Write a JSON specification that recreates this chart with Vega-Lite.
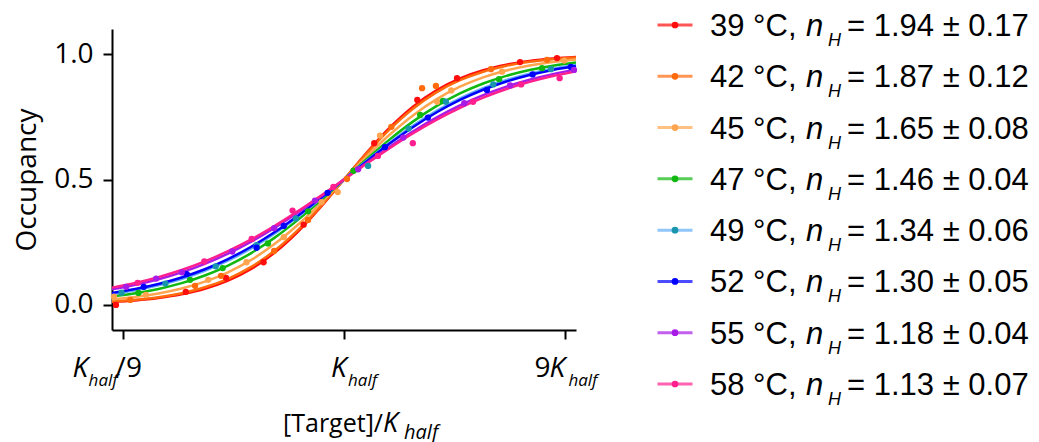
{
  "$schema": "https://vega.github.io/schema/vega-lite/v6.json",
  "background": "white",
  "padding": {"left": 13, "top": 11, "right": 5, "bottom": 0},
  "spacing": 59,
  "config": {"view": {"stroke": null}},
  "datasets": {
    "curves": [
      {"t":"39","x":0.1,"y":0.0114},{"t":"39","x":0.1259,"y":0.0176},{"t":"39","x":0.1585,"y":0.0273},{"t":"39","x":0.1995,"y":0.0420},{"t":"39","x":0.2512,"y":0.0642},{"t":"39","x":0.3162,"y":0.0968},{"t":"39","x":0.3981,"y":0.1435},{"t":"39","x":0.5012,"y":0.2075},{"t":"39","x":0.631,"y":0.2904},{"t":"39","x":0.7943,"y":0.3902},{"t":"39","x":1,"y":0.5},{"t":"39","x":1.2589,"y":0.6098},{"t":"39","x":1.5849,"y":0.7096},{"t":"39","x":1.9953,"y":0.7925},{"t":"39","x":2.5119,"y":0.8565},{"t":"39","x":3.1623,"y":0.9032},{"t":"39","x":3.9811,"y":0.9358},{"t":"39","x":5.0119,"y":0.9580},{"t":"39","x":6.3096,"y":0.9727},{"t":"39","x":7.9433,"y":0.9824},{"t":"39","x":10,"y":0.9886},
      {"t":"42","x":0.1,"y":0.0133},{"t":"42","x":0.1259,"y":0.0203},{"t":"42","x":0.1585,"y":0.0309},{"t":"42","x":0.1995,"y":0.0468},{"t":"42","x":0.2512,"y":0.0702},{"t":"42","x":0.3162,"y":0.1041},{"t":"42","x":0.3981,"y":0.1516},{"t":"42","x":0.5012,"y":0.2156},{"t":"42","x":0.631,"y":0.2971},{"t":"42","x":0.7943,"y":0.3940},{"t":"42","x":1,"y":0.5},{"t":"42","x":1.2589,"y":0.6060},{"t":"42","x":1.5849,"y":0.7029},{"t":"42","x":1.9953,"y":0.7844},{"t":"42","x":2.5119,"y":0.8484},{"t":"42","x":3.1623,"y":0.8959},{"t":"42","x":3.9811,"y":0.9298},{"t":"42","x":5.0119,"y":0.9532},{"t":"42","x":6.3096,"y":0.9691},{"t":"42","x":7.9433,"y":0.9797},{"t":"42","x":10,"y":0.9867},
      {"t":"45","x":0.1,"y":0.0219},{"t":"45","x":0.1259,"y":0.0317},{"t":"45","x":0.1585,"y":0.0457},{"t":"45","x":0.1995,"y":0.0654},{"t":"45","x":0.2512,"y":0.0928},{"t":"45","x":0.3162,"y":0.1302},{"t":"45","x":0.3981,"y":0.1795},{"t":"45","x":0.5012,"y":0.2424},{"t":"45","x":0.631,"y":0.3187},{"t":"45","x":0.7943,"y":0.4061},{"t":"45","x":1,"y":0.5},{"t":"45","x":1.2589,"y":0.5939},{"t":"45","x":1.5849,"y":0.6813},{"t":"45","x":1.9953,"y":0.7576},{"t":"45","x":2.5119,"y":0.8205},{"t":"45","x":3.1623,"y":0.8698},{"t":"45","x":3.9811,"y":0.9072},{"t":"45","x":5.0119,"y":0.9346},{"t":"45","x":6.3096,"y":0.9543},{"t":"45","x":7.9433,"y":0.9683},{"t":"45","x":10,"y":0.9781},
      {"t":"47","x":0.1,"y":0.0335},{"t":"47","x":0.1259,"y":0.0463},{"t":"47","x":0.1585,"y":0.0636},{"t":"47","x":0.1995,"y":0.0868},{"t":"47","x":0.2512,"y":0.1174},{"t":"47","x":0.3162,"y":0.1570},{"t":"47","x":0.3981,"y":0.2067},{"t":"47","x":0.5012,"y":0.2673},{"t":"47","x":0.631,"y":0.3380},{"t":"47","x":0.7943,"y":0.4167},{"t":"47","x":1,"y":0.5},{"t":"47","x":1.2589,"y":0.5833},{"t":"47","x":1.5849,"y":0.6620},{"t":"47","x":1.9953,"y":0.7327},{"t":"47","x":2.5119,"y":0.7933},{"t":"47","x":3.1623,"y":0.8430},{"t":"47","x":3.9811,"y":0.8826},{"t":"47","x":5.0119,"y":0.9132},{"t":"47","x":6.3096,"y":0.9364},{"t":"47","x":7.9433,"y":0.9537},{"t":"47","x":10,"y":0.9665},
      {"t":"49","x":0.1,"y":0.0437},{"t":"49","x":0.1259,"y":0.0586},{"t":"49","x":0.1585,"y":0.0781},{"t":"49","x":0.1995,"y":0.1034},{"t":"49","x":0.2512,"y":0.1357},{"t":"49","x":0.3162,"y":0.1761},{"t":"49","x":0.3981,"y":0.2254},{"t":"49","x":0.5012,"y":0.2838},{"t":"49","x":0.631,"y":0.3504},{"t":"49","x":0.7943,"y":0.4235},{"t":"49","x":1,"y":0.5},{"t":"49","x":1.2589,"y":0.5765},{"t":"49","x":1.5849,"y":0.6496},{"t":"49","x":1.9953,"y":0.7162},{"t":"49","x":2.5119,"y":0.7746},{"t":"49","x":3.1623,"y":0.8239},{"t":"49","x":3.9811,"y":0.8643},{"t":"49","x":5.0119,"y":0.8966},{"t":"49","x":6.3096,"y":0.9219},{"t":"49","x":7.9433,"y":0.9414},{"t":"49","x":10,"y":0.9563},
      {"t":"52","x":0.1,"y":0.0477},{"t":"52","x":0.1259,"y":0.0633},{"t":"52","x":0.1585,"y":0.0836},{"t":"52","x":0.1995,"y":0.1095},{"t":"52","x":0.2512,"y":0.1423},{"t":"52","x":0.3162,"y":0.1829},{"t":"52","x":0.3981,"y":0.2320},{"t":"52","x":0.5012,"y":0.2895},{"t":"52","x":0.631,"y":0.3547},{"t":"52","x":0.7943,"y":0.4257},{"t":"52","x":1,"y":0.5},{"t":"52","x":1.2589,"y":0.5743},{"t":"52","x":1.5849,"y":0.6453},{"t":"52","x":1.9953,"y":0.7105},{"t":"52","x":2.5119,"y":0.7680},{"t":"52","x":3.1623,"y":0.8171},{"t":"52","x":3.9811,"y":0.8577},{"t":"52","x":5.0119,"y":0.8905},{"t":"52","x":6.3096,"y":0.9164},{"t":"52","x":7.9433,"y":0.9367},{"t":"52","x":10,"y":0.9523},
      {"t":"55","x":0.1,"y":0.0620},{"t":"55","x":0.1259,"y":0.0798},{"t":"55","x":0.1585,"y":0.1021},{"t":"55","x":0.1995,"y":0.1299},{"t":"55","x":0.2512,"y":0.1638},{"t":"55","x":0.3162,"y":0.2045},{"t":"55","x":0.3981,"y":0.2522},{"t":"55","x":0.5012,"y":0.3068},{"t":"55","x":0.631,"y":0.3674},{"t":"55","x":0.7943,"y":0.4325},{"t":"55","x":1,"y":0.5},{"t":"55","x":1.2589,"y":0.5675},{"t":"55","x":1.5849,"y":0.6326},{"t":"55","x":1.9953,"y":0.6932},{"t":"55","x":2.5119,"y":0.7478},{"t":"55","x":3.1623,"y":0.7955},{"t":"55","x":3.9811,"y":0.8362},{"t":"55","x":5.0119,"y":0.8701},{"t":"55","x":6.3096,"y":0.8979},{"t":"55","x":7.9433,"y":0.9202},{"t":"55","x":10,"y":0.9380},
      {"t":"58","x":0.1,"y":0.0690},{"t":"58","x":0.1259,"y":0.0877},{"t":"58","x":0.1585,"y":0.1109},{"t":"58","x":0.1995,"y":0.1393},{"t":"58","x":0.2512,"y":0.1735},{"t":"58","x":0.3162,"y":0.2140},{"t":"58","x":0.3981,"y":0.2610},{"t":"58","x":0.5012,"y":0.3142},{"t":"58","x":0.631,"y":0.3728},{"t":"58","x":0.7943,"y":0.4353},{"t":"58","x":1,"y":0.5},{"t":"58","x":1.2589,"y":0.5647},{"t":"58","x":1.5849,"y":0.6272},{"t":"58","x":1.9953,"y":0.6858},{"t":"58","x":2.5119,"y":0.7390},{"t":"58","x":3.1623,"y":0.7860},{"t":"58","x":3.9811,"y":0.8265},{"t":"58","x":5.0119,"y":0.8607},{"t":"58","x":6.3096,"y":0.8891},{"t":"58","x":7.9433,"y":0.9123},{"t":"58","x":10,"y":0.9310}
    ],
    "points": [
      {"t":"39","x":0.104,"y":0.0},{"t":"39","x":0.208,"y":0.052},{"t":"39","x":0.31,"y":0.108},{"t":"39","x":0.45,"y":0.17},{"t":"39","x":0.67,"y":0.32},{"t":"39","x":1.35,"y":0.645},{"t":"39","x":2.07,"y":0.817},{"t":"39","x":3.07,"y":0.904},{"t":"39","x":5.74,"y":0.968},{"t":"39","x":8.28,"y":0.984},
      {"t":"42","x":0.12,"y":0.02},{"t":"42","x":0.228,"y":0.076},{"t":"42","x":0.295,"y":0.116},{"t":"42","x":0.5,"y":0.215},{"t":"42","x":0.7,"y":0.339},{"t":"42","x":1.03,"y":0.502},{"t":"42","x":1.6,"y":0.71},{"t":"42","x":2.17,"y":0.864},{"t":"42","x":2.49,"y":0.873},{"t":"42","x":4.3,"y":0.94},{"t":"42","x":7.5,"y":0.977},
      {"t":"45","x":0.102,"y":0.033},{"t":"45","x":0.14,"y":0.04},{"t":"45","x":0.26,"y":0.1},{"t":"45","x":0.38,"y":0.17},{"t":"45","x":0.55,"y":0.27},{"t":"45","x":0.8,"y":0.41},{"t":"45","x":0.94,"y":0.45},{"t":"45","x":1.43,"y":0.675},{"t":"45","x":2.52,"y":0.81},{"t":"45","x":2.9,"y":0.855},{"t":"45","x":4.8,"y":0.93},{"t":"45","x":8.9,"y":0.974},
      {"t":"47","x":0.13,"y":0.048},{"t":"47","x":0.217,"y":0.1},{"t":"47","x":0.3,"y":0.147},{"t":"47","x":0.47,"y":0.245},{"t":"47","x":0.7,"y":0.373},{"t":"47","x":1.1,"y":0.535},{"t":"47","x":2.13,"y":0.757},{"t":"47","x":2.67,"y":0.813},{"t":"47","x":4.66,"y":0.9},{"t":"47","x":7.14,"y":0.944},
      {"t":"49","x":0.11,"y":0.049},{"t":"49","x":0.17,"y":0.085},{"t":"49","x":0.28,"y":0.154},{"t":"49","x":0.42,"y":0.238},{"t":"49","x":0.62,"y":0.345},{"t":"49","x":1.27,"y":0.554},{"t":"49","x":1.9,"y":0.703},{"t":"49","x":2.75,"y":0.81},{"t":"49","x":4.4,"y":0.879},{"t":"49","x":7.8,"y":0.94},
      {"t":"52","x":0.137,"y":0.072},{"t":"52","x":0.21,"y":0.123},{"t":"52","x":0.42,"y":0.228},{"t":"52","x":0.55,"y":0.315},{"t":"52","x":0.85,"y":0.447},{"t":"52","x":1.5,"y":0.629},{"t":"52","x":2.3,"y":0.747},{"t":"52","x":4.13,"y":0.857},{"t":"52","x":6.5,"y":0.919},{"t":"52","x":9.5,"y":0.949},
      {"t":"55","x":0.115,"y":0.072},{"t":"55","x":0.155,"y":0.105},{"t":"55","x":0.2,"y":0.13},{"t":"55","x":0.33,"y":0.213},{"t":"55","x":0.5,"y":0.306},{"t":"55","x":0.75,"y":0.416},{"t":"55","x":1.15,"y":0.541},{"t":"55","x":1.8,"y":0.667},{"t":"55","x":3.3,"y":0.804},{"t":"55","x":5.2,"y":0.875},{"t":"55","x":9.8,"y":0.937},
      {"t":"58","x":0.129,"y":0.088},{"t":"58","x":0.25,"y":0.173},{"t":"58","x":0.4,"y":0.263},{"t":"58","x":0.6,"y":0.376},{"t":"58","x":0.9,"y":0.47},{"t":"58","x":1.4,"y":0.594},{"t":"58","x":1.98,"y":0.645},{"t":"58","x":3.6,"y":0.81},{"t":"58","x":5.8,"y":0.879},{"t":"58","x":8.5,"y":0.904}
    ],
    "legend": [
      {"t":"39","tl":"39 °C,","st":"= 1.94 ± 0.17"},
      {"t":"42","tl":"42 °C,","st":"= 1.87 ± 0.12"},
      {"t":"45","tl":"45 °C,","st":"= 1.65 ± 0.08"},
      {"t":"47","tl":"47 °C,","st":"= 1.46 ± 0.04"},
      {"t":"49","tl":"49 °C,","st":"= 1.34 ± 0.06"},
      {"t":"52","tl":"52 °C,","st":"= 1.30 ± 0.05"},
      {"t":"55","tl":"55 °C,","st":"= 1.18 ± 0.04"},
      {"t":"58","tl":"58 °C,","st":"= 1.13 ± 0.07"}
    ]
  },
  "hconcat": [
    {
      "width": 464,
      "height": 301,
      "layer": [
        {
          "data": {"name": "curves"},
          "mark": {"type": "line", "interpolate": "monotone", "strokeWidth": 2.5},
          "encoding": {
            "x": {"field": "x", "type": "quantitative",
              "scale": {"type": "log", "domain": [0.1, 10], "nice": false},
              "axis": {"values": [0.1111111, 1, 9], "labels": false, "title": null, "grid": false,
                "domainColor": "black", "domainWidth": 2, "tickColor": "black", "tickWidth": 2, "tickSize": 9}},
            "y": {"field": "y", "type": "quantitative",
              "scale": {"domain": [-0.1, 1.1], "nice": false, "zero": false},
              "axis": {"values": [0, 0.5, 1], "format": ".1f", "grid": false, "title": "Occupancy",
                "domainColor": "black", "domainWidth": 2, "tickColor": "black", "tickWidth": 2, "tickSize": 9,
                "labelFont": "Open Sans", "labelFontSize": 28, "labelColor": "black", "labelPadding": 10,
                "titleFont": "Open Sans", "titleFontSize": 28, "titleFontWeight": "normal", "titleColor": "black", "titlePadding": 12}},
            "color": {"field": "t", "type": "nominal",
              "scale": {"domain": ["39","42","45","47","49","52","55","58"],
                "range": ["#FF0D0D","#FF6A0D","#FFA54F","#10B810","#63AEF5","#0000FF","#A81BE6","#FF1F8E"]},
              "legend": null}
          }
        },
        {
          "data": {"name": "points"},
          "mark": {"type": "point", "filled": true, "size": 40, "opacity": 1},
          "encoding": {
            "x": {"field": "x", "type": "quantitative"},
            "y": {"field": "y", "type": "quantitative"},
            "fill": {"field": "t", "type": "nominal",
              "scale": {"domain": ["39","42","45","47","49","52","55","58"],
                "range": ["#FF0D0D","#FF6A0D","#FFA54F","#10B810","#1996AD","#0000FF","#A81BE6","#FF1F8E"]},
              "legend": null}
          }
        },
        {"data": {"values": [{}]}, "mark": {"type": "text", "text": "K", "font": "Open Sans", "fontSize": 28, "fontStyle": "italic", "align": "left", "baseline": "alphabetic", "dx": -50},
          "encoding": {"x": {"datum": 0.1111111, "type": "quantitative"}, "y": {"datum": -0.287, "type": "quantitative"}}},
        {"data": {"values": [{}]}, "mark": {"type": "text", "text": "half", "font": "Open Sans", "fontSize": 17, "fontStyle": "italic", "align": "left", "baseline": "alphabetic", "dx": -34},
          "encoding": {"x": {"datum": 0.1111111, "type": "quantitative"}, "y": {"datum": -0.323, "type": "quantitative"}}},
        {"data": {"values": [{}]}, "mark": {"type": "text", "text": "/9", "font": "Open Sans", "fontSize": 28, "align": "left", "baseline": "alphabetic", "dx": -7},
          "encoding": {"x": {"datum": 0.1111111, "type": "quantitative"}, "y": {"datum": -0.287, "type": "quantitative"}}},
        {"data": {"values": [{}]}, "mark": {"type": "text", "text": "K", "font": "Open Sans", "fontSize": 28, "fontStyle": "italic", "align": "left", "baseline": "alphabetic", "dx": -13},
          "encoding": {"x": {"datum": 1, "type": "quantitative"}, "y": {"datum": -0.287, "type": "quantitative"}}},
        {"data": {"values": [{}]}, "mark": {"type": "text", "text": "half", "font": "Open Sans", "fontSize": 17, "fontStyle": "italic", "align": "left", "baseline": "alphabetic", "dx": 4},
          "encoding": {"x": {"datum": 1, "type": "quantitative"}, "y": {"datum": -0.323, "type": "quantitative"}}},
        {"data": {"values": [{}]}, "mark": {"type": "text", "text": "9", "font": "Open Sans", "fontSize": 28, "align": "left", "baseline": "alphabetic", "dx": -31},
          "encoding": {"x": {"datum": 9, "type": "quantitative"}, "y": {"datum": -0.287, "type": "quantitative"}}},
        {"data": {"values": [{}]}, "mark": {"type": "text", "text": "K", "font": "Open Sans", "fontSize": 28, "fontStyle": "italic", "align": "left", "baseline": "alphabetic", "dx": -16},
          "encoding": {"x": {"datum": 9, "type": "quantitative"}, "y": {"datum": -0.287, "type": "quantitative"}}},
        {"data": {"values": [{}]}, "mark": {"type": "text", "text": "half", "font": "Open Sans", "fontSize": 17, "fontStyle": "italic", "align": "left", "baseline": "alphabetic", "dx": 3},
          "encoding": {"x": {"datum": 9, "type": "quantitative"}, "y": {"datum": -0.323, "type": "quantitative"}}},
        {"data": {"values": [{}]}, "mark": {"type": "text", "text": "[Target]/", "font": "Open Sans", "fontSize": 25, "align": "right", "baseline": "alphabetic", "dx": 39},
          "encoding": {"x": {"datum": 1, "type": "quantitative"}, "y": {"datum": -0.507, "type": "quantitative"}}},
        {"data": {"values": [{}]}, "mark": {"type": "text", "text": "K", "font": "Open Sans", "fontSize": 27, "fontStyle": "italic", "align": "left", "baseline": "alphabetic", "dx": 39},
          "encoding": {"x": {"datum": 1, "type": "quantitative"}, "y": {"datum": -0.507, "type": "quantitative"}}},
        {"data": {"values": [{}]}, "mark": {"type": "text", "text": "half", "font": "Open Sans", "fontSize": 20, "fontStyle": "italic", "align": "left", "baseline": "alphabetic", "dx": 60},
          "encoding": {"x": {"datum": 1, "type": "quantitative"}, "y": {"datum": -0.535, "type": "quantitative"}}}
      ]
    },
    {
      "width": 360,
      "height": 359,
      "data": {"name": "legend"},
      "encoding": {
        "y": {"field": "t", "type": "ordinal", "scale": {"type": "point", "padding": 0}, "axis": null},
        "x": {"datum": 0, "type": "quantitative", "scale": {"domain": [0, 1]}, "axis": null}
      },
      "layer": [
        {"mark": {"type": "tick", "orient": "horizontal", "size": 35, "thickness": 3, "yOffset": -4},
          "encoding": {"color": {"field": "t", "type": "nominal", "legend": null}}},
        {"mark": {"type": "point", "filled": true, "size": 45, "opacity": 1, "yOffset": -4},
          "encoding": {"fill": {"field": "t", "type": "nominal", "legend": null}}},
        {"mark": {"type": "text", "font": "Liberation Sans", "fontSize": 31, "align": "left", "baseline": "alphabetic", "dx": 35, "dy": 7, "color": "black"},
          "encoding": {"text": {"field": "tl"}}},
        {"mark": {"type": "text", "text": "n", "font": "Liberation Sans", "fontSize": 31, "fontStyle": "italic", "align": "left", "baseline": "alphabetic", "dx": 131, "dy": 7, "color": "black"}},
        {"mark": {"type": "text", "text": "H", "font": "Liberation Sans", "fontSize": 18, "fontStyle": "italic", "align": "left", "baseline": "alphabetic", "dx": 153, "dy": 17, "color": "black"}},
        {"mark": {"type": "text", "font": "Liberation Sans", "fontSize": 31, "align": "left", "baseline": "alphabetic", "dx": 172, "dy": 7, "color": "black"},
          "encoding": {"text": {"field": "st"}}}
      ]
    }
  ]
}
